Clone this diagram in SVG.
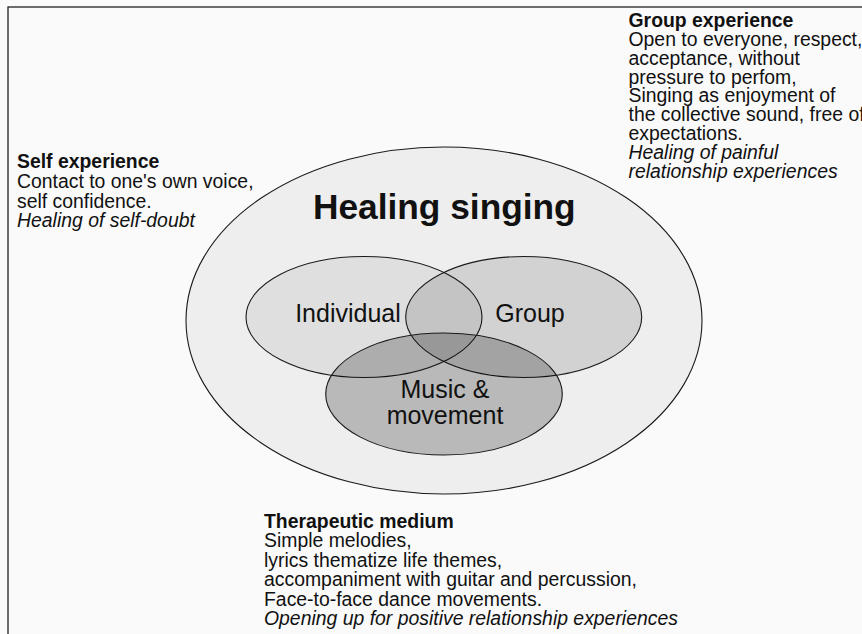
<svg xmlns="http://www.w3.org/2000/svg" width="862" height="634" viewBox="0 0 862 634">
<style>
  text { font-family: "Liberation Sans", Arial, sans-serif; fill: #111; }
  .body { font-size: 19.4px; }
  .head { font-size: 19.4px; font-weight: bold; }
  .it { font-style: italic; }
  .venn { font-size: 25px; text-anchor: middle; }
  .title { font-size: 35.3px; font-weight: bold; text-anchor: middle; }
  .ell { stroke: #1a1a1a; stroke-width: 1.1; }
</style>
<rect x="0" y="0" width="862" height="634" fill="#fbfbfb"/>
<rect x="8" y="7" width="900" height="700" fill="#fafafa" stroke="#222" stroke-width="1.3"/>

<g id="healing-singing">
  <ellipse class="ell" cx="444" cy="320.5" rx="258" ry="173.5" fill="#eeeeee"/>
  <text class="title" x="444.3" y="218.5">Healing singing</text>
</g>
<g id="individual">
  <ellipse class="ell" cx="364" cy="317" rx="118" ry="60.5" fill="#000" fill-opacity="0.063"/>
  <text class="venn" x="348" y="322">Individual</text>
</g>
<g id="group">
  <ellipse class="ell" cx="523.7" cy="317" rx="118" ry="60.5" fill="#000" fill-opacity="0.118"/>
  <text class="venn" x="530" y="322">Group</text>
</g>
<g id="music-movement">
  <ellipse class="ell" cx="444" cy="394" rx="118.3" ry="61" fill="#000" fill-opacity="0.225"/>
  <text class="venn" x="445" y="397.5">Music &amp;</text>
  <text class="venn" x="445" y="424">movement</text>
</g>

<g id="self-experience">
  <text class="head" x="17" y="168">Self experience</text>
  <text class="body" x="17" y="188">Contact to one's own voice,</text>
  <text class="body" x="17" y="207.5">self confidence.</text>
  <text class="body it" x="17" y="227">Healing of self-doubt</text>
</g>
<g id="group-experience">
  <text class="head" x="628.5" y="27">Group experience</text>
  <text class="body" x="628.5" y="45.9">Open to everyone, respect,</text>
  <text class="body" x="628.5" y="64.7">acceptance, without</text>
  <text class="body" x="628.5" y="83.6">pressure to perfom,</text>
  <text class="body" x="628.5" y="102.4">Singing as enjoyment of</text>
  <text class="body" x="628.5" y="121.3">the collective sound, free of</text>
  <text class="body" x="628.5" y="140.1">expectations.</text>
  <text class="body it" x="628.5" y="159">Healing of painful</text>
  <text class="body it" x="628.5" y="177.8">relationship experiences</text>
</g>
<g id="therapeutic-medium">
  <text class="head" x="264" y="528">Therapeutic medium</text>
  <text class="body" x="264" y="547.4">Simple melodies,</text>
  <text class="body" x="264" y="566.8">lyrics thematize life themes,</text>
  <text class="body" x="264" y="586.2">accompaniment with guitar and percussion,</text>
  <text class="body" x="264" y="605.6">Face-to-face dance movements.</text>
  <text class="body it" x="264" y="625">Opening up for positive relationship experiences</text>
</g>
</svg>
